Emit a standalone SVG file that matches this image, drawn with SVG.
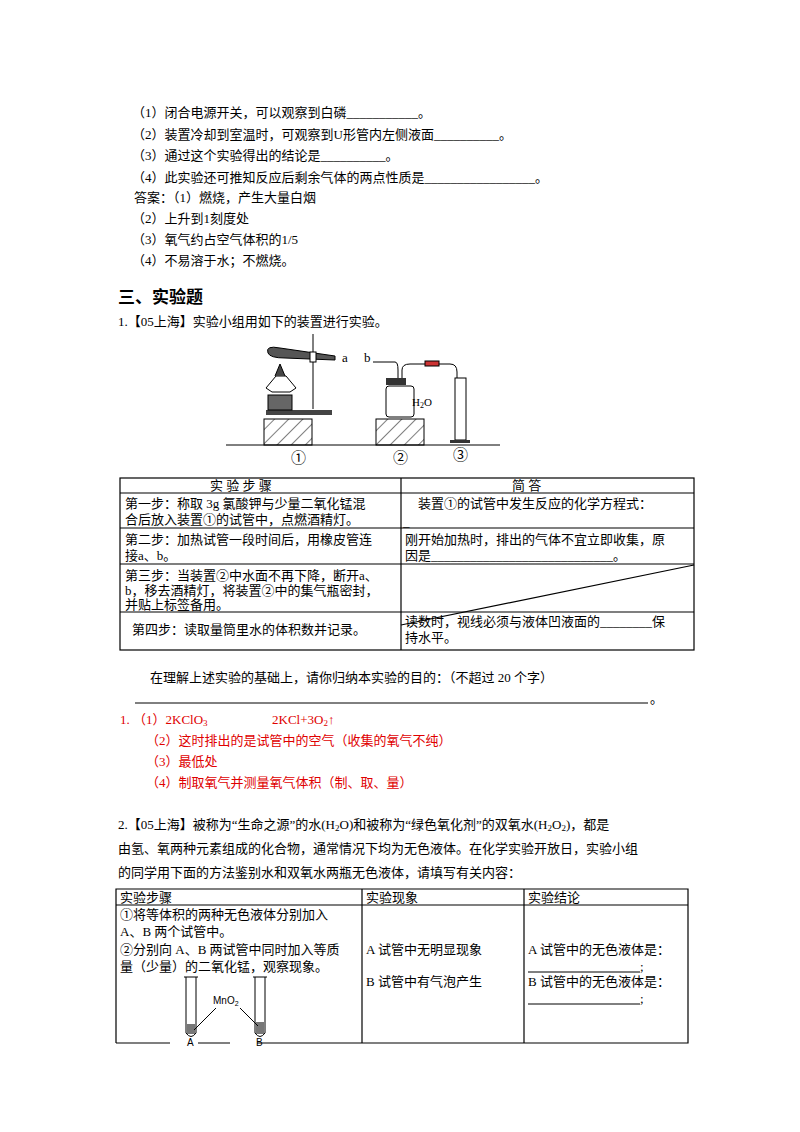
<svg xmlns="http://www.w3.org/2000/svg" width="800" height="1132" viewBox="0 0 800 1132">
<style>
text{font-family:"Liberation Serif","Noto Sans CJK SC",serif;font-size:13px;fill:#000}
.r{fill:#e00000}
.h{font-size:17px;font-weight:bold;font-family:"Noto Sans CJK SC",sans-serif}
.ln{stroke:#000;stroke-width:1;fill:none}
.t{stroke:#000;stroke-width:1.2;fill:none}
</style>
<defs><pattern id="hatch" width="10" height="10" patternUnits="userSpaceOnUse" patternTransform="rotate(45)"><line x1="0" y1="0" x2="0" y2="10" stroke="#000" stroke-width="1"/></pattern></defs>
<rect width="800" height="1132" fill="#fff"/>
<g id="part1">
<text x="132" y="117">（1）闭合电源开关，可以观察到白磷___________。</text>
<text x="132" y="139">（2）装置冷却到室温时，可观察到U形管内左侧液面__________。</text>
<text x="132" y="160">（3）通过这个实验得出的结论是__________。</text>
<text x="132" y="182">（4）此实验还可推知反应后剩余气体的两点性质是_________________。</text>
<text x="134" y="202">答案：（1）燃烧，产生大量白烟</text>
<text x="132" y="223">（2）上升到1刻度处</text>
<text x="132" y="244">（3）氧气约占空气体积的1/5</text>
<text x="132" y="265">（4）不易溶于水；不燃烧。</text>
<text class="h" x="118" y="303">三、实验题</text>
<text x="118" y="326">1.【05上海】实验小组用如下的装置进行实验。</text>
</g>
<g id="apparatus">
<line class="ln" x1="226" y1="445" x2="500" y2="445"/>
<rect x="264" y="419" width="48" height="26" fill="url(#hatch)" stroke="#000"/>
<rect x="376" y="419" width="48" height="26" fill="url(#hatch)" stroke="#000"/>
<rect x="266" y="410" width="66" height="5" fill="#444"/>
<rect x="268" y="395" width="24" height="15" fill="#666" stroke="#000"/>
<path d="M266,388 L276,376 L286,376 L296,388 L290,392 L272,392 Z" fill="#fff" stroke="#000"/>
<path d="M275,376 L280,364 L285,376" fill="#444" stroke="#000"/>
<line class="ln" x1="313" y1="334" x2="313" y2="409"/>
<path d="M268,353 Q265,345 280,348 L335,356 L335,360 L285,358 Q270,358 268,353 Z" fill="#555" stroke="#000"/>
<rect x="310" y="352" width="6" height="10" fill="#fff" stroke="#000"/>
<text x="342" y="362">a</text>
<text x="364" y="362">b</text>
<path d="M373,362 L395,362 Q398,362 398,370 L398,380" class="ln"/>
<path d="M402,380 L402,370 Q402,364 410,364 L450,364 Q457,364 457,372 L457,432" class="ln"/>
<rect x="425" y="361" width="14" height="5" fill="#c33" stroke="#000"/>
<rect x="386" y="378" width="20" height="7" fill="#333"/>
<rect x="386" y="386" width="28" height="31" rx="3" fill="#fff" stroke="#000"/>
<text x="412" y="406" style="font-size:11px">H<tspan font-size="8" dy="2">2</tspan><tspan dy="-2">O</tspan></text>
<rect x="455" y="378" width="11" height="62" fill="#fff" stroke="#000"/>
<rect x="450" y="440" width="20" height="3" fill="#333"/>
<text x="291" y="463" style="font-size:15px">①</text>
<text x="393" y="463" style="font-size:15px">②</text>
<text x="453" y="460" style="font-size:15px">③</text>
</g>
<g id="table1">
<rect x="120" y="478" width="574" height="172" class="t"/>
<line class="t" x1="401" y1="478" x2="401" y2="650"/>
<line class="t" x1="120" y1="493" x2="694" y2="493"/>
<line class="t" x1="120" y1="528" x2="694" y2="528"/>
<line class="t" x1="120" y1="564" x2="694" y2="564"/>
<line class="t" x1="120" y1="612" x2="694" y2="612"/>
<line class="t" x1="401" y1="625" x2="694" y2="565"/>
<text x="210" y="490">实   验   步   骤</text>
<text x="512" y="490">简        答</text>
<text x="125" y="508">第一步：称取 3g 氯酸钾与少量二氧化锰混</text>
<text x="125" y="524">合后放入装置①的试管中，点燃酒精灯。</text>
<text x="418" y="508">装置①的试管中发生反应的化学方程式：</text>
<text x="403" y="526">_</text>
<text x="125" y="544">第二步：加热试管一段时间后，用橡皮管连</text>
<text x="125" y="560">接a、b。</text>
<text x="405" y="544">刚开始加热时，排出的气体不宜立即收集，原</text>
<text x="405" y="560">因是____________________________。</text>
<text x="125" y="580">第三步：当装置②中水面不再下降，断开a、</text>
<text x="125" y="595">b，移去酒精灯，将装置②中的集气瓶密封，</text>
<text x="125" y="609">并贴上标签备用。</text>
<text x="132" y="634">第四步：读取量筒里水的体积数并记录。</text>
<text x="405" y="626">读数时，视线必须与液体凹液面的________保</text>
<text x="405" y="642">持水平。</text>
</g>
<g id="part2">
<text x="150" y="682">在理解上述实验的基础上，请你归纳本实验的目的：（不超过 20 个字）</text>
<line class="ln" x1="135" y1="703" x2="648" y2="703"/>
<text x="650" y="703">。</text>
<text class="r" x="120" y="724">1.  （1）2KClO<tspan font-size="9" dy="2">3</tspan><tspan dy="-2" x="272">2KCl+3O</tspan><tspan font-size="9" dy="2">2</tspan><tspan dy="-2">↑</tspan></text>
<text class="r" x="146" y="745">（2）这时排出的是试管中的空气（收集的氧气不纯）</text>
<text class="r" x="146" y="766">（3）最低处</text>
<text class="r" x="146" y="787">（4）制取氧气并测量氧气体积（制、取、量）</text>
<text x="118" y="829">2.【05上海】被称为“生命之源”的水(H<tspan font-size="9" dy="2">2</tspan><tspan dy="-2">O)和被称为“绿色氧化剂”的双氧水(H</tspan><tspan font-size="9" dy="2">2</tspan><tspan dy="-2">O</tspan><tspan font-size="9" dy="2">2</tspan><tspan dy="-2">)，都是</tspan></text>
<text x="118" y="853">由氢、氧两种元素组成的化合物，通常情况下均为无色液体。在化学实验开放日，实验小组</text>
<text x="118" y="877">的同学用下面的方法鉴别水和双氧水两瓶无色液体，请填写有关内容：</text>
</g>
<g id="table2">
<path class="t" d="M116,1043 V889 H688 V1043 H257 M230,1043 H198 M170,1043 H116"/>
<line class="t" x1="116" y1="905" x2="688" y2="905"/>
<line class="t" x1="362" y1="889" x2="362" y2="1043"/>
<line class="t" x1="524" y1="889" x2="524" y2="1043"/>
<text x="120" y="902">实验步骤</text>
<text x="366" y="902">实验现象</text>
<text x="528" y="902">实验结论</text>
<text x="120" y="919">①将等体积的两种无色液体分别加入</text>
<text x="120" y="936">A、B 两个试管中。</text>
<text x="120" y="954">②分别向 A、B 两试管中同时加入等质</text>
<text x="120" y="971">量（少量）的二氧化锰，观察现象。</text>
<text x="366" y="954">A 试管中无明显现象</text>
<text x="366" y="986">B 试管中有气泡产生</text>
<text x="528" y="954">A 试管中的无色液体是：</text>
<line class="ln" x1="528" y1="972" x2="640" y2="972"/><text x="640" y="971">;</text>
<text x="528" y="986">B 试管中的无色液体是：</text>
<line class="ln" x1="528" y1="1004" x2="640" y2="1004"/><text x="640" y="1003">;</text>
<path class="ln" d="M186,977 V1033 Q191,1040 196,1033 V977 M184,977 H198"/>
<path class="ln" d="M255,977 V1033 Q260,1040 265,1033 V977 M253,977 H267"/>
<rect x="187" y="1024" width="8" height="10" fill="#777"/>
<rect x="256" y="1022" width="8" height="12" fill="#777"/>
<line class="ln" x1="194" y1="1030" x2="216" y2="1008"/>
<line class="ln" x1="240" y1="1008" x2="258" y2="1026"/>
<text x="213" y="1004" style="font-family:'Liberation Sans',sans-serif;font-size:10px">MnO<tspan font-size="7" dy="2">2</tspan></text>
<text x="187" y="1046" style="font-family:'Liberation Sans',sans-serif;font-size:10px">A</text>
<text x="256" y="1046" style="font-family:'Liberation Sans',sans-serif;font-size:10px">B</text>
</g>
</svg>
